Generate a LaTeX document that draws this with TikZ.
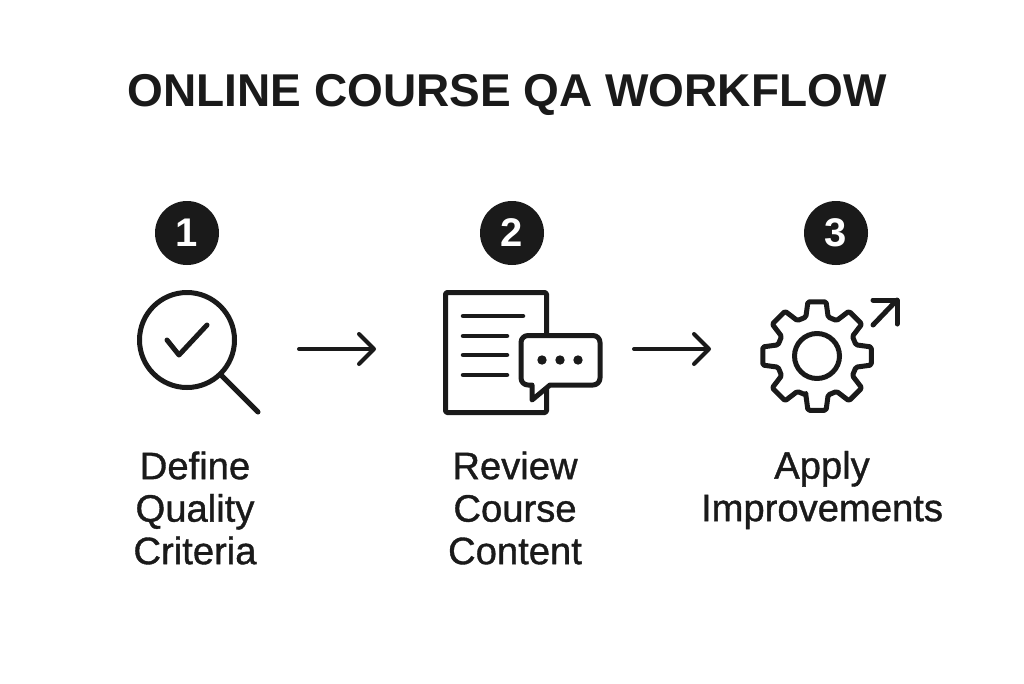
\documentclass[tikz,border=0pt]{standalone}
\usepackage{fontspec}
\setmainfont{Liberation Sans}
\newfontfamily\medfont[FakeBold=1.0]{Liberation Sans}
\usetikzlibrary{arrows.meta}
\definecolor{ink}{HTML}{1A1A1A}
\tikzset{
  icon/.style={draw=ink, line width=5pt, line join=round, line cap=round},
  flow/.style={draw=ink, line width=4pt, line cap=round, -{Straight Barb[length=15pt,width=30pt,line cap=round,round]}},
  badge/.style={circle, fill=ink, text=white, minimum size=64pt, inner sep=0pt, font=\fontsize{40}{40}\selectfont\bfseries},
  steplabel/.style={text=ink, align=center, inner sep=0pt, font=\fontsize{38.2}{42.5}\selectfont\medfont},
}
\begin{document}
\begin{tikzpicture}[x=1pt, y=-1pt]
\useasboundingbox (0,0) rectangle (1024,683);
\node (title) at (507,95) [text=ink, font=\fontsize{46}{46}\selectfont\bfseries] {ONLINE COURSE QA WORKFLOW};

\node (badgeA) [badge] at (187,233) {1};
\node (badgeB) [badge] at (512,233) {2};
\node (badgeC) [badge] at (836,233) {3};

% magnifier
\draw[icon] (187,340) circle (47.5);
\draw[icon] (221,375)--(258,412);
\draw[icon] (167,340)--(179,355)--(207,325);

% document
\draw[icon, rounded corners=1.5pt] (445.5,292.5) rectangle (546.5,412.5);
\draw[icon, line width=4.5pt] (463,316)--(523,316);
\draw[icon, line width=4.5pt] (463,336)--(507,336);
\draw[icon, line width=4.5pt] (463,355)--(507,355);
\draw[icon, line width=4.5pt] (463,375)--(507,375);
\draw[icon, fill=white] (528,335.5)--(593,335.5)
  to[out=0,in=90] (600,342.5)--(600,378) to[out=-90,in=0] (593,385)--(550,385)--(532,400)--(532,385)--(528,385)
  to[out=180,in=-90] (521,378)--(521,342.5) to[out=90,in=180] (528,335.5)--cycle;
\fill[ink] (542,360) circle (4.7) (560,360) circle (4.7) (578,360) circle (4.7);

% gear
\begin{scope}[shift={(817,356)}]
\draw[icon] (0,0) circle (22.5);
\draw[icon, rounded corners=1.5pt] (106:40.5)
  \foreach \a in {90,45,0,-45,-90,-135,-180,-225} {
    --(\a+9.5:55)--(\a-9.5:55)--(\a-16:40.5)--(\a-29:40.5)
  } --cycle;
\end{scope}
\draw[icon] (873,325)--(897,300);
\draw[icon] (873,300)--(897,300)--(897,324);

\coordinate (flowAa) at (299,349);
\coordinate (flowAb) at (376,349);
\coordinate (flowBa) at (634,349);
\coordinate (flowBb) at (711,349);
\draw[flow] (flowAa)--(flowAb);
\draw[flow] (flowBa)--(flowBb);

\node (labelA) [steplabel] at (195,508) {Define\\Quality\\Criteria};
\node (labelB) [steplabel] at (515,508) {Review\\Course\\Content};
\node (labelC) [steplabel] at (822,490) {Apply\\Improvements};
\end{tikzpicture}
\end{document}
